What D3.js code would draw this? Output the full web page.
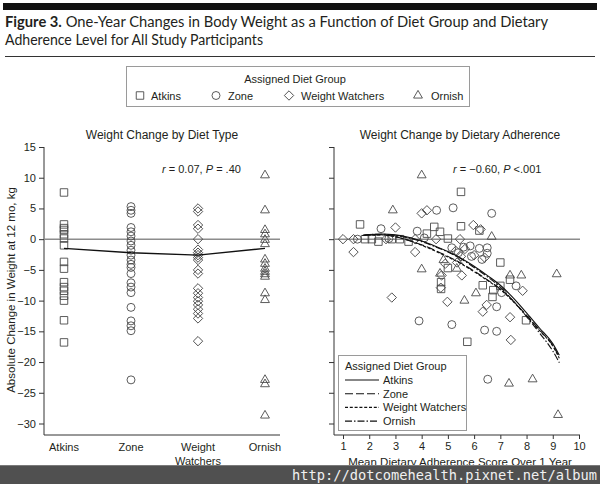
<!DOCTYPE html>
<html><head><meta charset="utf-8">
<script src="https://cdn.jsdelivr.net/npm/d3@7"></script>
<style>
html,body{margin:0;padding:0;background:#fff;}
svg{display:block;}
text{font-family:"Liberation Sans",Arial,sans-serif;fill:#231f20;}
</style></head>
<body>
<svg id="c" width="600" height="484"></svg>
<script>
// ---------- DATA ----------
const groups = ["Atkins", "Zone", "Weight Watchers", "Ornish"];
const groupTickLabels = [["Atkins"], ["Zone"], ["Weight", "Watchers"], ["Ornish"]];
const yTicks = [15, 10, 5, 0, -5, -10, -15, -20, -25, -30];
const xTicksRight = [1, 2, 3, 4, 5, 6, 7, 8, 9, 10];

// Left panel: weight change per participant by diet group (kg)
const atkinsChange = [7.6, 2.4, 1.8, 1.5, 0.8, 0.1, -1.0, -3.7, -4.8, -7.0, -7.8, -8.4, -9.2, -10.0, -13.2, -16.8];
const zoneChange = [5.3, 4.7, 4.2, 1.9, 1.2, 0.5, -0.3, -1.0, -1.8, -2.6, -3.4, -4.1, -4.6, -5.6, -7.1, -7.8, -8.7, -11.1, -13.3, -14.1, -14.9, -22.9];
const wwChange = [5.0, 4.5, 2.3, 1.7, 0.0, -1.7, -2.2, -2.6, -3.0, -3.4, -5.0, -5.6, -8.0, -8.8, -9.5, -10.1, -10.7, -11.4, -12.1, -12.9, -16.6];
const ornishChange = [10.4, 4.7, 1.5, 0.8, -0.1, -0.8, -3.3, -4.0, -4.8, -5.3, -5.7, -6.1, -8.8, -9.9, -22.9, -23.6, -28.7];
const groupMeanLine = [-1.5, -2.2, -2.6, -1.5];

// Right panel: [adherence score, weight change]
const atkinsAdh = [[1.65,2.4],[1.84,0.0],[2.1,0.0],[2.35,-0.4],[2.86,0.0],[3.17,0.0],[3.5,-0.4],[4.2,0.9],[4.48,2.0],[4.7,1.2],[5.0,0.1],[5.5,7.7],[5.5,2.1],[6.2,1.4],[7.0,-3.8],[5.0,-4.7],[7.37,-6.6],[6.33,-7.5],[7.0,-7.6],[6.73,-8.3],[6.7,-9.4],[4.74,-7.0],[4.74,-8.1],[5.74,-16.7],[7.98,-13.2]];
const zoneAdh = [[1.55,0.0],[2.45,1.7],[2.75,0.1],[3.83,1.3],[4.57,4.7],[5.2,5.1],[6.67,4.2],[4.1,0.2],[5.15,-1.4],[5.6,-1.3],[5.85,-1.1],[6.2,-1.5],[6.5,-1.4],[6.5,-2.3],[5.9,-2.8],[6.3,-3.3],[5.4,-2.2],[7.05,-8.7],[7.6,-7.6],[6.86,-11.0],[3.9,-13.3],[5.15,-13.9],[6.4,-14.8],[6.86,-15.0],[6.52,-22.8]];
const wwAdh = [[1.0,0.0],[1.4,0.0],[1.4,-2.1],[2.64,0.0],[3.0,1.9],[3.75,0.0],[3.75,-2.1],[4.0,4.2],[4.2,4.7],[4.55,0.0],[5.46,0.0],[5.97,2.3],[6.25,1.6],[5.3,-1.9],[5.65,-1.6],[6.0,-2.6],[6.4,-3.0],[5.5,-2.8],[5.35,-3.8],[5.53,-5.9],[4.76,-5.9],[4.73,-7.9],[7.85,-8.4],[2.86,-9.5],[4.98,-10.2],[6.33,-11.8],[6.48,-10.7],[7.37,-12.7],[7.4,-16.4],[4.9,-4.0]];
const ornishAdh = [[4.0,10.4],[2.9,4.7],[6.67,0.4],[4.0,-4.9],[4.83,-3.4],[5.34,-4.8],[4.7,-5.6],[7.37,-5.9],[7.8,-5.9],[9.15,-5.7],[6.07,-8.8],[5.63,-10.0],[7.33,-23.5],[8.23,-22.8],[9.2,-28.6]];

// Fitted curves
const curveX = [1.75, 2, 2.5, 3, 3.5, 4, 4.5, 5, 5.5, 6, 6.5, 7, 7.5, 8, 8.5, 9, 9.25];
const atkinsFit = [0.6, 0.75, 0.85, 0.7, 0.3, -0.3, -1.1, -2.0, -3.1, -4.4, -5.9, -7.5, -9.6, -12.0, -14.5, -17.0, -18.9];
const zoneFit = [0.6, 0.7, 0.7, 0.4, -0.2, -0.9, -1.8, -2.8, -3.9, -5.2, -6.6, -8.1, -10.1, -12.4, -14.8, -17.3, -19.2];
const wwFit = [0.6, 0.7, 0.7, 0.4, -0.2, -1.0, -1.9, -2.9, -4.0, -5.3, -6.7, -8.2, -10.2, -12.5, -14.9, -17.4, -19.4];
const ornishFit = [0.6, 0.75, 0.8, 0.6, 0.2, -0.4, -1.2, -2.1, -3.2, -4.6, -6.1, -7.8, -10.1, -12.6, -15.3, -18.2, -20.1];

// ---------- DRAW ----------
const svg = d3.select("#c");
const ink = "#231f20", mk = "#4a4a4a";

// header
svg.append("rect").attr("x",3).attr("y",3).attr("width",594).attr("height",7).attr("fill","#111");
const t1 = svg.append("text").attr("x",5).attr("y",27).style("font-family","Lato, 'Open Sans', sans-serif").style("font-size","15.5px")
  .attr("textLength",543).attr("lengthAdjust","spacingAndGlyphs");
t1.append("tspan").style("font-weight","bold").text("Figure 3.");
t1.append("tspan").text(" One-Year Changes in Body Weight as a Function of Diet Group and Dietary");
svg.append("text").attr("x",5).attr("y",45).style("font-family","Lato, 'Open Sans', sans-serif").style("font-size","15.5px")
  .attr("textLength",258).attr("lengthAdjust","spacingAndGlyphs").text("Adherence Level for All Study Participants");
svg.append("line").attr("x1",5).attr("x2",595).attr("y1",56.5).attr("y2",56.5).attr("stroke","#333").attr("stroke-width",1);

// symbols
const symType = [d3.symbolSquare, d3.symbolCircle, d3.symbolSquare, d3.symbolTriangle];
const symSize = [56, 50, 44, 34];
const symRot = [0, 0, 45, 0];
function marker(g, gi, x, y){
  g.append("path").attr("d", d3.symbol().type(symType[gi]).size(symSize[gi])())
   .attr("transform", `translate(${x},${y}) rotate(${symRot[gi]})`)
   .attr("fill","none").attr("stroke",mk).attr("stroke-width",0.9);
}

// top legend
svg.append("rect").attr("x",126.5).attr("y",66.5).attr("width",343).attr("height",40).attr("fill","none").attr("stroke","#9a9a9a");
svg.append("text").attr("x",295).attr("y",83).attr("text-anchor","middle").style("font-size","11px").text("Assigned Diet Group");
const legPos = [[140,151],[216,228],[289,301],[418,431]];
groups.forEach((gname,i)=>{
  marker(svg, i, legPos[i][0], 95.5);
  svg.append("text").attr("x",legPos[i][1]).attr("y",99.5).style("font-size","11px").text(gname);
});

// scales
const y = d3.scaleLinear().domain([-30,15]).range([423.5,147]);
const xL = d3.scalePoint().domain(groups).range([64,265]);
const xR = d3.scaleLinear().domain([1,10]).range([343,579]);
const baseY = 435;

// panel titles
svg.append("text").attr("x",162).attr("y",139).attr("text-anchor","middle").style("font-size","12px").text("Weight Change by Diet Type");
svg.append("text").attr("x",460).attr("y",139).attr("text-anchor","middle").style("font-size","12px").text("Weight Change by Dietary Adherence");

// left axes
const gL = svg.append("g");
const yAxL = d3.axisLeft(y).tickValues(yTicks).tickSize(5).tickPadding(3).tickFormat(d3.format("d"));
const ya = gL.append("g").attr("transform","translate(44,0)").call(yAxL);
ya.select(".domain").remove();
ya.selectAll("text").style("font-size","11px").attr("fill",ink);
ya.selectAll("line").attr("stroke","#333");
gL.append("line").attr("x1",44).attr("x2",44).attr("y1",147).attr("y2",baseY).attr("stroke","#333");
gL.append("line").attr("x1",44).attr("x2",280).attr("y1",baseY).attr("y2",baseY).attr("stroke","#333");
groups.forEach((gname,i)=>{
  const tx = gL.append("text").attr("x",xL(gname)).attr("y",451).attr("text-anchor","middle").style("font-size","11px");
  groupTickLabels[i].forEach((s,j)=>tx.append("tspan").attr("x",xL(gname)).attr("dy", j?14:0).text(s));
});
svg.append("text").attr("transform","translate(15,290) rotate(-90)").attr("text-anchor","middle").style("font-size","11.5px")
  .text("Absolute Change in Weight at 12 mo, kg");

// left zero line, markers, mean line
gL.append("line").attr("x1",44).attr("x2",280).attr("y1",y(0)).attr("y2",y(0)).attr("stroke","#8c8c8c").attr("stroke-width",1.5);
const leftData = [atkinsChange, zoneChange, wwChange, ornishChange];
leftData.forEach((arr,gi)=>arr.forEach(v=>marker(gL, gi, xL(groups[gi]), y(v))));
gL.append("path").datum(groupMeanLine).attr("d", d3.line().x((d,i)=>xL(groups[i])).y(d=>y(d)))
  .attr("fill","none").attr("stroke","#111").attr("stroke-width",1.4);
const rl = gL.append("text").attr("x",162).attr("y",173).style("font-size","11px");
rl.append("tspan").style("font-style","italic").text("r");
rl.append("tspan").text(" = 0.07, ");
rl.append("tspan").style("font-style","italic").text("P");
rl.append("tspan").text(" = .40");

// right axes
const gR = svg.append("g");
const yAxR = d3.axisLeft(y).tickValues(yTicks).tickSize(5).tickFormat("");
const yr = gR.append("g").attr("transform","translate(334,0)").call(yAxR);
yr.select(".domain").remove(); yr.selectAll("line").attr("stroke","#333");
gR.append("line").attr("x1",334).attr("x2",334).attr("y1",147).attr("y2",baseY).attr("stroke","#333");
const xa = gR.append("g").attr("transform",`translate(0,${baseY})`).call(d3.axisBottom(xR).tickValues(xTicksRight).tickSize(4).tickPadding(3));
xa.select(".domain").remove();
xa.selectAll("line").attr("stroke","#333");
xa.selectAll("text").style("font-size","11px").attr("fill",ink);
gR.append("line").attr("x1",334).attr("x2",580).attr("y1",baseY).attr("y2",baseY).attr("stroke","#333");
svg.append("text").attr("x",460).attr("y",466).attr("text-anchor","middle").style("font-size","11.5px").text("Mean Dietary Adherence Score Over 1 Year");

gR.append("line").attr("x1",334).attr("x2",580).attr("y1",y(0)).attr("y2",y(0)).attr("stroke","#8c8c8c").attr("stroke-width",1.5);
const rightData = [atkinsAdh, zoneAdh, wwAdh, ornishAdh];
rightData.forEach((arr,gi)=>arr.forEach(d=>marker(gR, gi, xR(d[0]), y(d[1]))));

const fits = [atkinsFit, zoneFit, wwFit, ornishFit];
const dashes = [null, "8,3", "3,1.8", "7,2,1.5,2"];
const lineGen = d3.line().x((d,i)=>xR(curveX[i])).y(d=>y(d)).curve(d3.curveMonotoneX);
fits.forEach((f,i)=>{
  gR.append("path").datum(f).attr("d", lineGen).attr("fill","none").attr("stroke","#111")
    .attr("stroke-width",1.1).attr("stroke-dasharray", dashes[i]);
});
const rr = gR.append("text").attr("x",453).attr("y",173).style("font-size","11px");
rr.append("tspan").style("font-style","italic").text("r");
rr.append("tspan").text(" = −0.60, ");
rr.append("tspan").style("font-style","italic").text("P");
rr.append("tspan").text(" <.001");

// right legend
svg.append("rect").attr("x",338.5).attr("y",355.5).attr("width",128).attr("height",75).attr("fill","#fff").attr("stroke","#9a9a9a");
svg.append("text").attr("x",345).attr("y",370).style("font-size","11px").text("Assigned Diet Group");
groups.forEach((gname,i)=>{
  const cy = 380 + i*13.7;
  svg.append("line").attr("x1",345).attr("x2",379).attr("y1",cy).attr("y2",cy).attr("stroke","#111").attr("stroke-width",1.1).attr("stroke-dasharray",dashes[i]);
  svg.append("text").attr("x",383).attr("y",cy+4).style("font-size","11px").text(gname);
});

// watermark band
svg.append("rect").attr("x",0).attr("y",465).attr("width",600).attr("height",19).attr("fill","#505050");
svg.append("line").attr("x1",0).attr("x2",600).attr("y1",465.5).attr("y2",465.5).attr("stroke","#7a7a7a");
svg.append("text").attr("x",597).attr("y",480).attr("text-anchor","end")
  .style("font-family","'DejaVu Sans Mono', monospace").style("font-size","13.7px").style("fill","#f0f0f0")
  .text("http://dotcomehealth.pixnet.net/album");
</script>
</body></html>
